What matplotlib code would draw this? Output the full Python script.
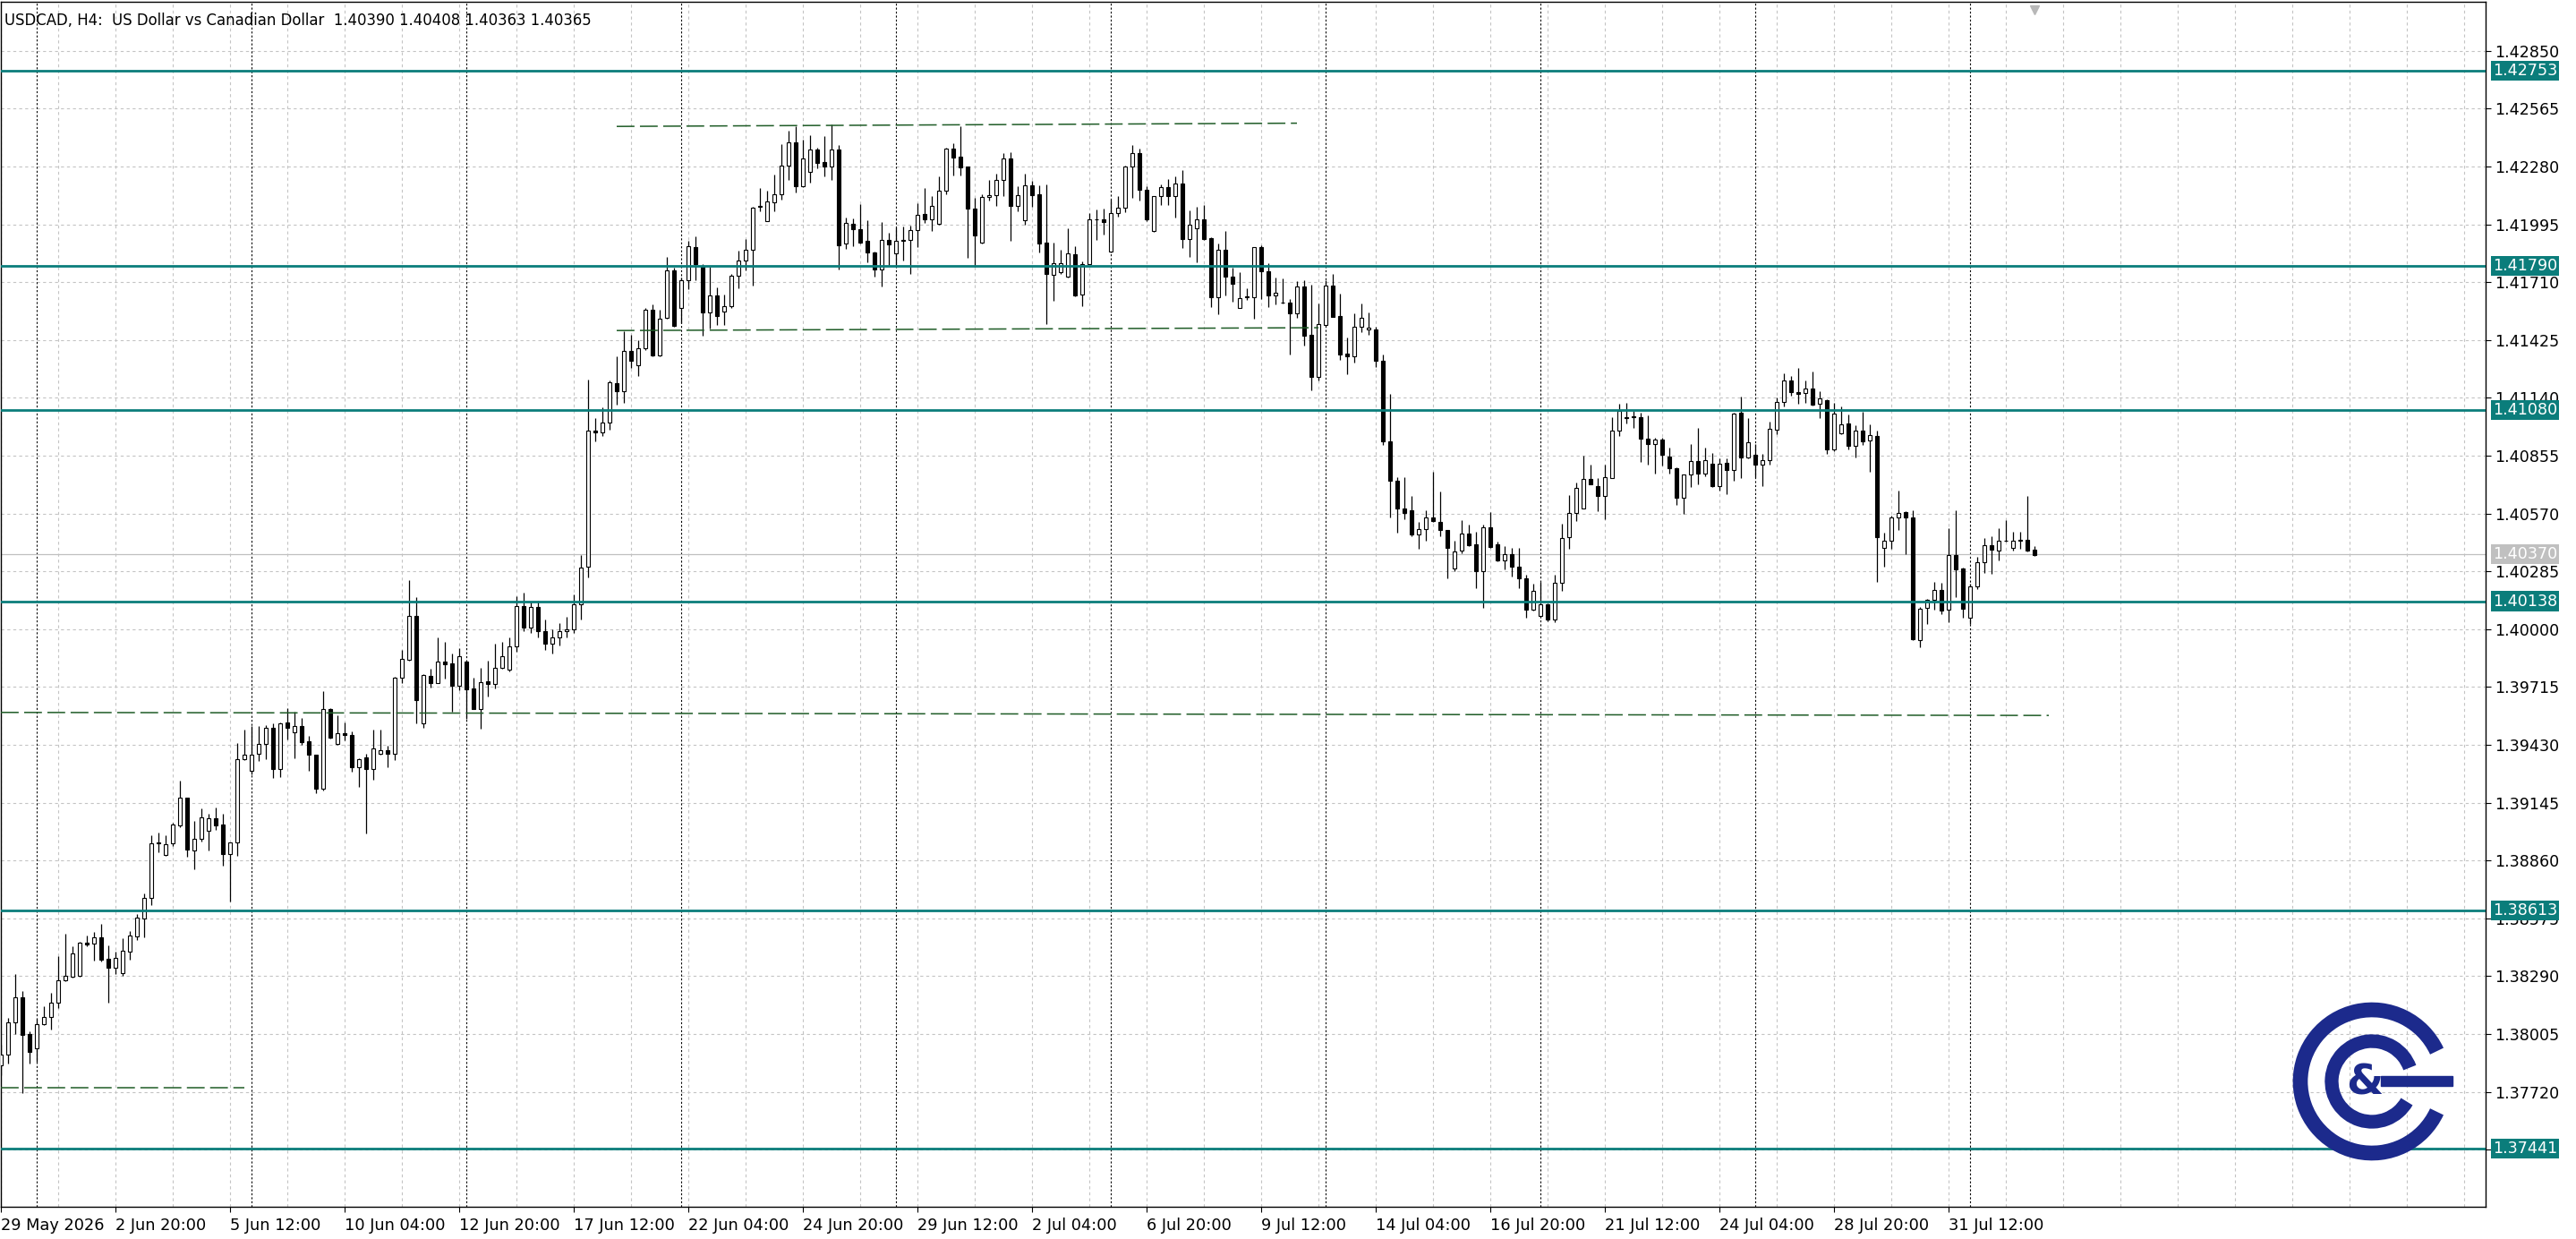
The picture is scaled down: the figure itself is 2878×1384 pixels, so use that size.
import numpy as np
import matplotlib
matplotlib.use("Agg")
import matplotlib.pyplot as plt
from matplotlib import font_manager
from matplotlib.patches import Arc, Rectangle

# ---- candles (open, high, low, close), one list per trading week ----
wk_may29 = [
    (1.37851, 1.37950, 1.37800, 1.37902),
    (1.37902, 1.38085, 1.37858, 1.38063),
    (1.38063, 1.38300, 1.38005, 1.38187),
    (1.38187, 1.38217, 1.37715, 1.38000),
    (1.38005, 1.38019, 1.37861, 1.37917),
]
wk_jun01 = [
    (1.37936, 1.38078, 1.37870, 1.38053), (1.38053, 1.38143, 1.38050, 1.38088),
    (1.38088, 1.38209, 1.38026, 1.38158), (1.38158, 1.38388, 1.38133, 1.38271),
    (1.38271, 1.38499, 1.38265, 1.38290), (1.38289, 1.38438, 1.38285, 1.38402),
    (1.38290, 1.38461, 1.38288, 1.38455), (1.38455, 1.38490, 1.38436, 1.38446),
    (1.38451, 1.38509, 1.38366, 1.38483), (1.38483, 1.38546, 1.38363, 1.38370),
    (1.38374, 1.38440, 1.38158, 1.38333), (1.38333, 1.38410, 1.38300, 1.38382),
    (1.38304, 1.38475, 1.38293, 1.38414), (1.38410, 1.38512, 1.38373, 1.38490),
    (1.38487, 1.38597, 1.38470, 1.38578), (1.38575, 1.38699, 1.38480, 1.38677),
    (1.38677, 1.38984, 1.38640, 1.38945), (1.38945, 1.38999, 1.38899, 1.38948),
    (1.38886, 1.38984, 1.38882, 1.38940), (1.38943, 1.39046, 1.38932, 1.39038),
    (1.39035, 1.39255, 1.39025, 1.39170), (1.39170, 1.39172, 1.38877, 1.38914),
    (1.38911, 1.39054, 1.38816, 1.38967), (1.38967, 1.39116, 1.38955, 1.39072),
    (1.39006, 1.39089, 1.38909, 1.39067), (1.39067, 1.39123, 1.39010, 1.39035),
    (1.39038, 1.39089, 1.38833, 1.38892), (1.38892, 1.38950, 1.38658, 1.38948),
    (1.38948, 1.39440, 1.38885, 1.39360), (1.39360, 1.39506, 1.39353, 1.39382),
]
wk_jun08 = [
    (1.39301, 1.39521, 1.39284, 1.39383), (1.39385, 1.39523, 1.39351, 1.39435),
    (1.39435, 1.39527, 1.39361, 1.39513), (1.39513, 1.39535, 1.39266, 1.39313),
    (1.39313, 1.39540, 1.39272, 1.39535), (1.39540, 1.39613, 1.39457, 1.39513),
    (1.39491, 1.39594, 1.39366, 1.39525), (1.39525, 1.39561, 1.39430, 1.39442),
    (1.39446, 1.39476, 1.39304, 1.39380), (1.39380, 1.39382, 1.39194, 1.39216),
    (1.39212, 1.39694, 1.39204, 1.39608), (1.39605, 1.39610, 1.39461, 1.39467),
    (1.39435, 1.39576, 1.39432, 1.39486), (1.39486, 1.39542, 1.39454, 1.39477),
    (1.39477, 1.39495, 1.39299, 1.39322), (1.39322, 1.39365, 1.39221, 1.39361),
    (1.39367, 1.39388, 1.38995, 1.39313), (1.39313, 1.39505, 1.39260, 1.39414),
    (1.39385, 1.39505, 1.39383, 1.39402), (1.39402, 1.39425, 1.39322, 1.39385),
    (1.39385, 1.39766, 1.39355, 1.39763), (1.39763, 1.39898, 1.39736, 1.39855),
    (1.39851, 1.40241, 1.39844, 1.40064), (1.40064, 1.40156, 1.39538, 1.39652),
    (1.39538, 1.39780, 1.39516, 1.39773), (1.39769, 1.39804, 1.39714, 1.39736),
    (1.39736, 1.39958, 1.39733, 1.39839), (1.39841, 1.39939, 1.39755, 1.39829),
    (1.39832, 1.39880, 1.39594, 1.39723), (1.39723, 1.39907, 1.39701, 1.39869),
]
wk_jun15 = [
    (1.39841, 1.39845, 1.39560, 1.39704), (1.39708, 1.39763, 1.39605, 1.39608),
    (1.39608, 1.39810, 1.39508, 1.39741), (1.39742, 1.39844, 1.39670, 1.39732),
    (1.39732, 1.39929, 1.39707, 1.39811), (1.39811, 1.39939, 1.39807, 1.39869),
    (1.39802, 1.39958, 1.39790, 1.39914), (1.39914, 1.40162, 1.39890, 1.40116),
    (1.40116, 1.40180, 1.39990, 1.40010), (1.40010, 1.40135, 1.39980, 1.40110),
    (1.40110, 1.40140, 1.39960, 1.39990), (1.39990, 1.40050, 1.39900, 1.39930),
    (1.39930, 1.40000, 1.39880, 1.39960), (1.39960, 1.40030, 1.39920, 1.39990),
    (1.39990, 1.40060, 1.39960, 1.40000), (1.40000, 1.40170, 1.39980, 1.40121),
    (1.40121, 1.40367, 1.40048, 1.40305), (1.40309, 1.41230, 1.40255, 1.40977),
    (1.40977, 1.41042, 1.40926, 1.40972), (1.40972, 1.41095, 1.40951, 1.41018),
    (1.41018, 1.41226, 1.40985, 1.41217), (1.41212, 1.41345, 1.41106, 1.41172),
    (1.41172, 1.41468, 1.41116, 1.41373), (1.41373, 1.41450, 1.41288, 1.41324),
    (1.41299, 1.41425, 1.41247, 1.41384), (1.41384, 1.41585, 1.41376, 1.41574),
    (1.41574, 1.41599, 1.41345, 1.41348), (1.41348, 1.41574, 1.41345, 1.41532),
    (1.41536, 1.41834, 1.41530, 1.41769), (1.41769, 1.41782, 1.41490, 1.41496),
]
wk_jun22 = [
    (1.41582, 1.41733, 1.41509, 1.41720), (1.41720, 1.41913, 1.41675, 1.41888),
    (1.41883, 1.41937, 1.41721, 1.41798), (1.41785, 1.41798, 1.41446, 1.41561),
    (1.41561, 1.41785, 1.41482, 1.41643), (1.41643, 1.41684, 1.41499, 1.41545),
    (1.41566, 1.41651, 1.41499, 1.41594), (1.41590, 1.41749, 1.41582, 1.41744),
    (1.41741, 1.41864, 1.41679, 1.41818), (1.41818, 1.41921, 1.41770, 1.41872),
    (1.41872, 1.42082, 1.41692, 1.42077), (1.42080, 1.42174, 1.42060, 1.42085),
    (1.42012, 1.42160, 1.42010, 1.42107), (1.42105, 1.42240, 1.42059, 1.42143),
    (1.42143, 1.42391, 1.42117, 1.42284), (1.42284, 1.42455, 1.42215, 1.42399),
    (1.42399, 1.42480, 1.42151, 1.42184), (1.42184, 1.42414, 1.42180, 1.42319),
    (1.42252, 1.42436, 1.42203, 1.42366), (1.42363, 1.42373, 1.42273, 1.42299),
    (1.42301, 1.42430, 1.42230, 1.42281), (1.42281, 1.42488, 1.42215, 1.42363),
    (1.42363, 1.42388, 1.41772, 1.41894), (1.41899, 1.42028, 1.41876, 1.42002),
    (1.41998, 1.42025, 1.41888, 1.41970), (1.41973, 1.42095, 1.41900, 1.41906),
    (1.41913, 1.42014, 1.41810, 1.41857), (1.41857, 1.41860, 1.41738, 1.41772),
    (1.41772, 1.42005, 1.41688, 1.41918), (1.41918, 1.41955, 1.41792, 1.41896),
]
wk_jun29 = [
    (1.41851, 1.41980, 1.41790, 1.41913), (1.41918, 1.41983, 1.41817, 1.41915),
    (1.41918, 1.41991, 1.41750, 1.41968), (1.41968, 1.42099, 1.41884, 1.42043),
    (1.42045, 1.42176, 1.42002, 1.42020), (1.42020, 1.42136, 1.41962, 1.42087),
    (1.41998, 1.42230, 1.41995, 1.42163), (1.42163, 1.42372, 1.42143, 1.42369),
    (1.42369, 1.42396, 1.42237, 1.42326), (1.42329, 1.42477, 1.42237, 1.42277),
    (1.42280, 1.42282, 1.41832, 1.42072), (1.42074, 1.42126, 1.41787, 1.41939),
    (1.41906, 1.42143, 1.41900, 1.42129), (1.42132, 1.42215, 1.42114, 1.42141),
    (1.42141, 1.42247, 1.42087, 1.42215), (1.42215, 1.42347, 1.42136, 1.42319),
    (1.42319, 1.42351, 1.41916, 1.42087), (1.42087, 1.42185, 1.42062, 1.42141),
    (1.42016, 1.42245, 1.41995, 1.42186), (1.42186, 1.42211, 1.42083, 1.42140),
    (1.42142, 1.42186, 1.41857, 1.41902), (1.41905, 1.42192, 1.41504, 1.41751),
    (1.41747, 1.41905, 1.41619, 1.41806), (1.41760, 1.41872, 1.41751, 1.41806),
    (1.41739, 1.41975, 1.41735, 1.41854), (1.41850, 1.41887, 1.41639, 1.41647),
    (1.41650, 1.41813, 1.41592, 1.41801), (1.41801, 1.42049, 1.41798, 1.42022),
    (1.42022, 1.42068, 1.41919, 1.42019), (1.42019, 1.42071, 1.41946, 1.42005),
]
wk_jul06 = [
    (1.41862, 1.42115, 1.41858, 1.42053), (1.42053, 1.42133, 1.42034, 1.42076),
    (1.42076, 1.42285, 1.42056, 1.42280), (1.42280, 1.42385, 1.42127, 1.42348),
    (1.42348, 1.42369, 1.42111, 1.42164), (1.42164, 1.42182, 1.42010, 1.42020),
    (1.41961, 1.42137, 1.41958, 1.42133), (1.42133, 1.42192, 1.42089, 1.42177),
    (1.42177, 1.42219, 1.42090, 1.42133), (1.42133, 1.42233, 1.42030, 1.42195),
    (1.42195, 1.42263, 1.41880, 1.41921), (1.41921, 1.42064, 1.41835, 1.41993),
    (1.41978, 1.42081, 1.41809, 1.42020), (1.42020, 1.42089, 1.41920, 1.41924),
    (1.41927, 1.41930, 1.41589, 1.41636), (1.41636, 1.41902, 1.41552, 1.41868),
    (1.41868, 1.41961, 1.41644, 1.41739), (1.41737, 1.41781, 1.41614, 1.41703),
    (1.41585, 1.41759, 1.41585, 1.41633), (1.41637, 1.41681, 1.41622, 1.41640),
    (1.41636, 1.41885, 1.41530, 1.41882), (1.41882, 1.41894, 1.41629, 1.41766),
    (1.41766, 1.41806, 1.41589, 1.41644), (1.41647, 1.41732, 1.41599, 1.41658),
    (1.41610, 1.41728, 1.41605, 1.41608), (1.41610, 1.41629, 1.41356, 1.41558),
    (1.41558, 1.41715, 1.41533, 1.41688), (1.41688, 1.41719, 1.41400, 1.41446),
    (1.41449, 1.41700, 1.41176, 1.41242), (1.41242, 1.41604, 1.41228, 1.41505),
]
wk_jul13 = [
    (1.41501, 1.41719, 1.41493, 1.41695), (1.41695, 1.41749, 1.41538, 1.41541),
    (1.41545, 1.41656, 1.41326, 1.41353), (1.41360, 1.41439, 1.41257, 1.41346),
    (1.41346, 1.41555, 1.41316, 1.41490), (1.41489, 1.41604, 1.41464, 1.41533),
    (1.41477, 1.41560, 1.41452, 1.41488), (1.41479, 1.41489, 1.41294, 1.41324),
    (1.41324, 1.41356, 1.40907, 1.40925), (1.40925, 1.41161, 1.40549, 1.40733),
    (1.40733, 1.40751, 1.40475, 1.40597), (1.40597, 1.40751, 1.40544, 1.40571),
    (1.40588, 1.40656, 1.40460, 1.40467), (1.40467, 1.40529, 1.40397, 1.40493),
    (1.40493, 1.40588, 1.40438, 1.40549), (1.40549, 1.40777, 1.40530, 1.40534),
    (1.40531, 1.40679, 1.40460, 1.40487), (1.40487, 1.40490, 1.40249, 1.40401),
    (1.40301, 1.40438, 1.40286, 1.40383), (1.40389, 1.40537, 1.40374, 1.40470),
    (1.40470, 1.40515, 1.40408, 1.40416), (1.40420, 1.40479, 1.40202, 1.40286),
    (1.40286, 1.40515, 1.40106, 1.40504), (1.40504, 1.40578, 1.40400, 1.40405),
    (1.40420, 1.40431, 1.40335, 1.40339), (1.40339, 1.40411, 1.40295, 1.40372),
    (1.40372, 1.40401, 1.40261, 1.40310), (1.40310, 1.40401, 1.40202, 1.40250),
    (1.40250, 1.40268, 1.40057, 1.40098), (1.40098, 1.40224, 1.40091, 1.40187),
]
wk_jul20 = [
    (1.40064, 1.40234, 1.40060, 1.40124), (1.40124, 1.40128, 1.40039, 1.40047),
    (1.40047, 1.40268, 1.40035, 1.40227), (1.40227, 1.40522, 1.40190, 1.40450),
    (1.40456, 1.40659, 1.40397, 1.40571), (1.40571, 1.40721, 1.40533, 1.40695),
    (1.40596, 1.40854, 1.40594, 1.40742), (1.40742, 1.40809, 1.40712, 1.40714),
    (1.40707, 1.40746, 1.40582, 1.40658), (1.40658, 1.40812, 1.40541, 1.40751),
    (1.40746, 1.41043, 1.40744, 1.40981), (1.40977, 1.41109, 1.40952, 1.41077),
    (1.41045, 1.41114, 1.41014, 1.41040), (1.41050, 1.41077, 1.40992, 1.41046),
    (1.41047, 1.41065, 1.40823, 1.40940), (1.40940, 1.41052, 1.40812, 1.40912),
    (1.40912, 1.40945, 1.40768, 1.40933), (1.40933, 1.40945, 1.40808, 1.40861),
    (1.40849, 1.40893, 1.40768, 1.40795), (1.40795, 1.40797, 1.40614, 1.40648),
    (1.40648, 1.40763, 1.40570, 1.40761), (1.40761, 1.40911, 1.40699, 1.40827),
    (1.40827, 1.40993, 1.40714, 1.40765), (1.40768, 1.40893, 1.40754, 1.40834),
    (1.40815, 1.40867, 1.40703, 1.40705), (1.40705, 1.40842, 1.40685, 1.40817),
    (1.40820, 1.40842, 1.40666, 1.40783), (1.40783, 1.41067, 1.40732, 1.41062),
    (1.41067, 1.41147, 1.40743, 1.40846), (1.40846, 1.41040, 1.40842, 1.40923),
]
wk_jul27 = [
    (1.40859, 1.40911, 1.40750, 1.40812), (1.40812, 1.40864, 1.40705, 1.40834),
    (1.40834, 1.41025, 1.40812, 1.40989), (1.40984, 1.41143, 1.40960, 1.41121),
    (1.41121, 1.41263, 1.41100, 1.41227), (1.41227, 1.41250, 1.41150, 1.41168),
    (1.41168, 1.41287, 1.41111, 1.41161), (1.41165, 1.41224, 1.41114, 1.41187),
    (1.41187, 1.41268, 1.41103, 1.41106), (1.41109, 1.41175, 1.41040, 1.41136),
    (1.41128, 1.41135, 1.40864, 1.40884), (1.40885, 1.41117, 1.40878, 1.41062),
    (1.40965, 1.41099, 1.40962, 1.41009), (1.41014, 1.41058, 1.40884, 1.40906),
    (1.40906, 1.41006, 1.40848, 1.40981), (1.40981, 1.41070, 1.40907, 1.40928),
    (1.40929, 1.41009, 1.40777, 1.40955), (1.40952, 1.40980, 1.40234, 1.40453),
    (1.40401, 1.40475, 1.40308, 1.40434), (1.40434, 1.40560, 1.40397, 1.40553),
    (1.40553, 1.40684, 1.40490, 1.40575), (1.40578, 1.40580, 1.40369, 1.40553),
    (1.40553, 1.40588, 1.39948, 1.39951), (1.39946, 1.40109, 1.39910, 1.40101),
    (1.40106, 1.40150, 1.40025, 1.40146), (1.40146, 1.40234, 1.40096, 1.40194),
    (1.40194, 1.40228, 1.40073, 1.40091), (1.40096, 1.40497, 1.40035, 1.40364),
    (1.40364, 1.40586, 1.40158, 1.40295), (1.40298, 1.40305, 1.40057, 1.40103),
]
wk_aug03 = [
    (1.40057, 1.40224, 1.40028, 1.40212), (1.40212, 1.40357, 1.40199, 1.40332),
    (1.40332, 1.40448, 1.40279, 1.40416), (1.40416, 1.40457, 1.40273, 1.40394),
    (1.40389, 1.40497, 1.40339, 1.40434), (1.40434, 1.40537, 1.40430, 1.40437),
    (1.40401, 1.40482, 1.40389, 1.40434), (1.40434, 1.40479, 1.40397, 1.40442),
    (1.40442, 1.40656, 1.40385, 1.40389), (1.40390, 1.40408, 1.40363, 1.40365),
]

# horizontal levels (teal), dashed trend segments (start bar, end bar, p0, p1)
levels = [1.42753, 1.41790, 1.41080, 1.40138, 1.38613, 1.37441]
bid_price = 1.40370
trend_lines = [
    (86, 181, 1.42478, 1.42494),
    (86, 184, 1.41472, 1.41486),
    (0, 286, 1.39590, 1.39575),
    (0, 34, 1.37742, 1.37742),
]
price_ticks = [1.42850, 1.42565, 1.42280, 1.41995, 1.41710, 1.41425, 1.41140,
               1.40855, 1.40570, 1.40285, 1.40000, 1.39715, 1.39430, 1.39145,
               1.38860, 1.38575, 1.38290, 1.38005, 1.37720, 1.37435]
date_labels = ["29 May 2026", "2 Jun 20:00", "5 Jun 12:00", "10 Jun 04:00",
               "12 Jun 20:00", "17 Jun 12:00", "22 Jun 04:00", "24 Jun 20:00",
               "29 Jun 12:00", "2 Jul 04:00", "6 Jul 20:00", "9 Jul 12:00",
               "14 Jul 04:00", "16 Jul 20:00", "21 Jul 12:00", "24 Jul 04:00",
               "28 Jul 20:00", "31 Jul 12:00"]
header = "USDCAD, H4:  US Dollar vs Canadian Dollar  1.40390 1.40408 1.40363 1.40365"

weeks = [wk_may29, wk_jun01, wk_jun08, wk_jun15, wk_jun22, wk_jun29,
         wk_jul06, wk_jul13, wk_jul20, wk_jul27, wk_aug03]
ohlc = np.array([row for wk in weeks for row in wk])
o, h, l, c = ohlc.T
idx = np.arange(len(ohlc))

W, H = 2878, 1384
TEAL = "#0b7d7b"
GREEN = "#1f5c27"

fig = plt.figure(figsize=(W / 100, H / 100), dpi=100)
fig.patch.set_facecolor("white")


def has_font(name):
    try:
        font_manager.findfont(name, fallback_to_default=False)
        return True
    except Exception:
        return False


narrow = "Liberation Sans Narrow" if has_font("Liberation Sans Narrow") else "DejaVu Sans"
rend = fig.canvas.get_renderer()


def fit_size(text, family, target_px, base=12.0):
    t = fig.text(0, 0, text, fontsize=base, family=family)
    w = t.get_window_extent(renderer=rend).width
    t.remove()
    return base * target_px / w


date_fs = fit_size("2 Jun 20:00", narrow, 101)
price_fs = fit_size("1.42850", "DejaVu Sans", 72)
head_fs = fit_size(header, "DejaVu Sans", 655)

# plot area in pixels (top-down)
AX_L, AX_R, AX_T, AX_B = 1, 2777, 2, 1348
ax = fig.add_axes([AX_L / W, (H - AX_B) / H, (AX_R - AX_L) / W, (AX_B - AX_T) / H])
ax.set_facecolor("white")


def px_to_price(y):
    return 1.42850 - (y - 56.9) / 22665.0


ax.set_xlim((AX_L - 1) / 8.0, (AX_R - 1) / 8.0)
ax.set_ylim(px_to_price(AX_B), px_to_price(AX_T))

# grid
for p in price_ticks:
    ax.axhline(p, color="#c4c4c4", lw=0.8, ls=(0, (3, 3)), zorder=0)
for g in range(0, 350, 8):
    ax.axvline(g, color="#c4c4c4", lw=0.8, ls=(0, (3, 3)), zorder=0)
# week separators only where there is data
for s in range(5, len(ohlc), 30):
    ax.axvline(s, color="black", lw=0.8, ls=(0, (2, 2)), zorder=1)

# candles
up = c >= o
ax.vlines(idx, l, h, color="black", lw=0.9, zorder=3)
lo = np.minimum(o, c)
hh = np.abs(c - o)
ax.bar(idx[up], hh[up], bottom=lo[up], width=0.45, facecolor="white",
       edgecolor="black", linewidth=0.8, zorder=4)
ax.bar(idx[~up], hh[~up], bottom=lo[~up], width=0.45, facecolor="black",
       edgecolor="black", linewidth=0.8, zorder=4)

# bid line
ax.axhline(bid_price, color="#c0c0c0", lw=0.9, zorder=2)

# dashed trend segments
for x0, x1, p0, p1 in trend_lines:
    ax.plot([x0, x1], [p0, p1], color=GREEN, lw=1.1, ls=(0, (13, 4)), zorder=5)

# teal levels
for lv in levels:
    ax.axhline(lv, color=TEAL, lw=2.0, zorder=6)

# axes styling
for sp in ax.spines.values():
    sp.set_color("black")
    sp.set_linewidth(1.0)
ax.yaxis.tick_right()
ax.set_yticks(price_ticks)
ax.set_yticklabels([f"{p:.5f}" for p in price_ticks], family="DejaVu Sans",
                   fontsize=price_fs)
ax.tick_params(axis="y", length=4, width=0.8, pad=3, colors="black")
ax.set_xticks(range(0, 16 * len(date_labels), 16))
ax.set_xticklabels(date_labels, family=narrow, fontsize=date_fs, ha="left")
ax.tick_params(axis="x", length=4, width=0.8, pad=5, direction="out")

# price boxes on the right scale
for lv in levels:
    ax.annotate(f"{lv:.5f}", xy=(1, lv), xycoords=("axes fraction", "data"),
                xytext=(8, 0), textcoords="offset pixels", ha="left", va="center",
                color="white", fontsize=price_fs, family="DejaVu Sans",
                bbox=dict(boxstyle="square,pad=0.12", fc=TEAL, ec="none"),
                annotation_clip=False, zorder=10)
ax.annotate(f"{bid_price:.5f}", xy=(1, bid_price), xycoords=("axes fraction", "data"),
            xytext=(8, 0), textcoords="offset pixels", ha="left", va="center",
            color="white", fontsize=price_fs, family="DejaVu Sans",
            bbox=dict(boxstyle="square,pad=0.12", fc="#c0c0c0", ec="none"),
            annotation_clip=False, zorder=10)

# header text
ax.text(4 / (AX_R - AX_L), 1 - 21 / (AX_B - AX_T), header, transform=ax.transAxes,
        ha="left", va="center", fontsize=head_fs, family="DejaVu Sans", zorder=12)

# chart shift marker
ax.plot([len(ohlc) - 1], [px_to_price(11)], marker="v", ms=7, color="#b8b8b8",
        mec="#b8b8b8", zorder=12, clip_on=False)

# logo (drawn in pixel space)
lx0, ly0, lw_, lh_ = 2555, 1118, 190, 180
lax = fig.add_axes([lx0 / W, (H - ly0 - lh_) / H, lw_ / W, lh_ / H])
lax.set_xlim(0, lw_)
lax.set_ylim(0, lh_)
lax.set_aspect("equal")
lax.axis("off")
NAVY = "#1c2a8c"
cx, cy = 95, 90
lax.add_patch(Arc((cx, cy), 160, 160, theta1=25, theta2=335, lw=12, color=NAVY))
lax.add_patch(Arc((cx, cy), 90, 90, theta1=20, theta2=330, lw=11, color=NAVY))
lax.add_patch(Rectangle((cx + 10, cy - 5), 80, 11, color=NAVY))
lax.text(cx - 8, cy - 2, "&", ha="center", va="center", fontsize=34,
         fontweight="bold", color=NAVY, family="DejaVu Sans")

fig.savefig("out.png", dpi=100, facecolor="white")
